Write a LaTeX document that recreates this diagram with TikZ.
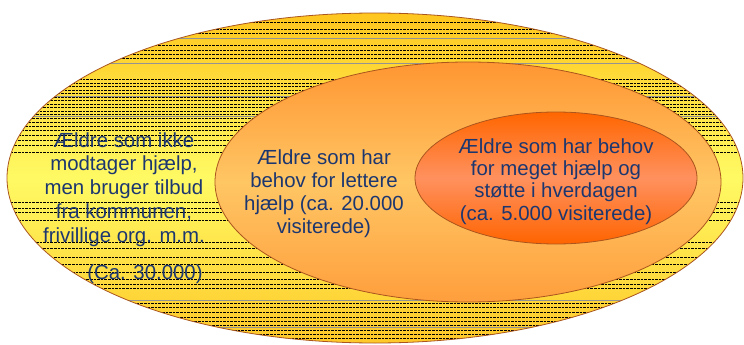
\documentclass[tikz,border=0pt]{standalone}
\usepackage{fontspec}
\setmainfont{Liberation Sans}
\definecolor{txt}{RGB}{28,55,112}
\definecolor{edgec}{RGB}{170,85,30}
\definecolor{yTop}{RGB}{255,198,30}
\definecolor{yMid}{RGB}{255,250,100}
\definecolor{yBot}{RGB}{255,200,40}
\definecolor{oTop}{RGB}{255,150,50}
\definecolor{oMid}{RGB}{255,198,100}
\definecolor{oBot}{RGB}{255,158,60}
\definecolor{rTop}{RGB}{255,102,0}
\definecolor{rMid}{RGB}{255,145,95}
\definecolor{rBot}{RGB}{255,100,0}
\newcommand\mystack[1]{\begin{tabular}[t]{@{}c@{}}#1\end{tabular}}
\tikzset{
  ring/.style={draw=edgec, line width=0.8pt},
  dashline/.style={black, line width=0.45pt, dash pattern=on 2.6pt off 1pt},
  greyline/.style={gray!85, line width=0.5pt},
  lblA/.style={text=txt, inner sep=0pt, anchor=base, font=\fontsize{20.4}{23.9}\selectfont},
  lblB/.style={text=txt, inner sep=0pt, anchor=base, font=\fontsize{20.4}{23}\selectfont},
  lblC/.style={text=txt, inner sep=0pt, anchor=base, font=\fontsize{20.4}{22.4}\selectfont},
}
\begin{document}
\begin{tikzpicture}[x=1pt,y=-1pt]
\useasboundingbox (0,0) rectangle (744,345);
\fill[white] (0,0) rectangle (744,345);
% outer ellipse
\shade[top color=yTop, bottom color=yBot, middle color=yMid]
  (375,178) ellipse [x radius=368pt, y radius=165pt];
\begin{scope}
  \clip (375,178) ellipse [x radius=368pt, y radius=165pt];
  \foreach \yy in {22,29,33,45,50,54,58,79,83,86,90,93,97,100,104,107,111,114,118,122,126,130,135,140,145,152,202,208,212,220,242,248,257,264,272,279,284,288,303,307,312,317,321,325,330,334,338}
    \draw[dashline] (0,\yy) -- (744,\yy);
  \foreach \yy in {38,63,96,116,300,327}
    \draw[greyline] (0,\yy) -- (744,\yy);
\end{scope}
\draw[ring] (375,178) ellipse [x radius=368pt, y radius=165pt];
% middle ellipse
\shade[top color=oTop, bottom color=oBot, middle color=oMid]
  (468,182) ellipse [x radius=253pt, y radius=120pt];
\draw[ring] (468,182) ellipse [x radius=253pt, y radius=120pt];
% inner ellipse
\shade[top color=rTop, bottom color=rBot, middle color=rMid]
  (556,178) ellipse [x radius=141pt, y radius=66pt];
\draw[ring] (556,178) ellipse [x radius=141pt, y radius=66pt];
% texts
\node[lblA] (outertext) at (124,147) {\mystack{Ældre som ikke\\modtager hjælp,\\men bruger tilbud\\fra kommunen,\\frivillige org. m.m.}};
\node[lblA] (outernum) at (145,279) {(Ca. 30.000)};
\node[lblB] (midtext) at (324,164) {\mystack{Ældre som har\\behov for lettere\\hjælp (ca. 20.000\\visiterede)}};
\node[lblC] (innertext) at (556,153) {\mystack{Ældre som har behov\\for meget hjælp og\\støtte i hverdagen\\(ca. 5.000 visiterede)}};
\end{tikzpicture}
\end{document}
